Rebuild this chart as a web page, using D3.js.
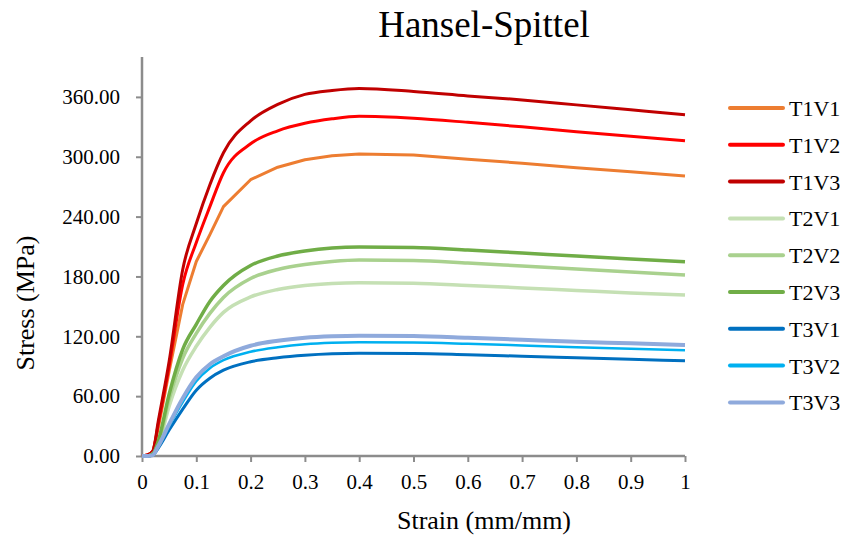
<!DOCTYPE html>
<html><head><meta charset="utf-8">
<script src="https://cdn.jsdelivr.net/npm/d3@7"></script>
<style>body{margin:0;background:#fff}svg{display:block}</style>
</head><body>
<svg id="chart" width="844" height="536"></svg>
<script>
const strain = [0, 0.01, 0.02, 0.03, 0.05, 0.075, 0.1, 0.125, 0.15, 0.2, 0.25, 0.3, 0.35, 0.4, 0.5, 0.6, 0.7, 0.8, 0.9, 1.0];
const seriesNames = ["T1V1","T1V2","T1V3","T2V1","T2V2","T2V3","T3V1","T3V2","T3V3"];
const T1V1 = [0, 1, 4, 28, 85, 152, 195, 222, 250, 277, 289.5, 297, 301, 302.7, 301.7, 297.5, 293.5, 289, 285, 280.7];
const T1V2 = [0, 1, 5, 32, 90, 172, 214, 250, 284, 313, 326, 333.5, 338, 340.5, 338.5, 334.5, 330, 325, 320.5, 316];
const T1V3 = [0, 1, 5, 35, 95, 187, 233, 272, 304, 336, 352.5, 362.5, 366.5, 368.5, 365.5, 361, 357, 352, 347, 342];
const T2V1 = [0, 0, 2, 11, 50, 86, 110, 129, 144, 159.5, 167, 171, 173, 173.7, 173.2, 171, 168.5, 166, 163.5, 161.4];
const T2V2 = [0, 0, 2, 13, 57, 98, 123, 143, 159, 178, 187, 192, 195, 196.5, 196, 193.5, 190.5, 187.5, 184.5, 181.5];
const T2V3 = [0, 0, 2, 15, 62, 107, 132, 155, 171, 191, 200.5, 205.5, 208.5, 209.5, 209, 206.5, 203.5, 200.5, 197.5, 194.8];
const T3V1 = [0, 0, 1, 8, 26, 47, 66, 78, 86, 94.5, 98.5, 101, 102.5, 103, 102.8, 101.5, 100, 98.5, 97, 95.5];
const T3V2 = [0, 0, 1, 9, 30, 54, 75, 88, 96, 104.5, 109, 112, 113.5, 114, 113.8, 112.5, 110.8, 109, 107.5, 106];
const T3V3 = [0, 0, 1, 10, 32, 58, 79, 92, 100, 110.5, 115.5, 118.5, 120, 120.6, 120.2, 118.5, 116.5, 114.5, 113, 111.3];
const xTicks = [0, 0.1, 0.2, 0.3, 0.4, 0.5, 0.6, 0.7, 0.8, 0.9, 1];
const yTicks = [0, 60, 120, 180, 240, 300, 360];

const seriesValues = [T1V1, T1V2, T1V3, T2V1, T2V2, T2V3, T3V1, T3V2, T3V3];
const colors = ["#ED7D31","#FF0000","#C00000","#C5E0B4","#A9D18E","#70AD47","#0070C0","#00B0F0","#8FAADC"];
const widths = [3, 3, 3, 3.5, 3.5, 3.5, 3, 2.5, 4];

const svg = d3.select("#chart");
const font = "'Liberation Serif','Times New Roman',serif";
const x = d3.scaleLinear().domain([0, 1]).range([142, 685]);
const y = d3.scaleLinear().domain([0, 400]).range([456, 57]);
const axisColor = "#8c8c8c";

// axes
const xAxis = svg.append("g").attr("transform", `translate(0,${y(0)})`)
  .call(d3.axisBottom(x).tickValues(xTicks).tickFormat(d => d3.format("")(d)).tickSizeOuter(0).tickSize(6).tickPadding(12));
const yAxis = svg.append("g").attr("transform", `translate(${x(0)},0)`)
  .call(d3.axisLeft(y).tickValues(yTicks).tickFormat(d3.format(".2f")).tickSizeOuter(0).tickSize(6).tickPadding(16));
[xAxis, yAxis].forEach(g => {
  g.attr("font-family", null);
  g.selectAll("path.domain").attr("stroke", axisColor).attr("stroke-width", 2.5);
  g.selectAll(".tick line").attr("stroke", axisColor).attr("stroke-width", 2);
  g.selectAll("text").style("font-family", font).attr("font-size", 21).attr("fill", "#000");
});
xAxis.select("path.domain").attr("d", `M0,0H${x(1)-x(0)}`).attr("transform", `translate(${x(0)},0)`);
yAxis.select("path.domain").attr("d", `M0,${y(0)}V${y(400)}`);

// lines
const line = d3.line().x((d, i) => x(strain[i])).y(d => y(d));
seriesValues.forEach((vals, k) => {
  line.curve(k === 0 ? d3.curveLinear : d3.curveMonotoneX);
  svg.append("path").datum(vals)
    .attr("d", line)
    .attr("fill", "none")
    .attr("stroke", colors[k])
    .attr("stroke-width", widths[k])
    .attr("stroke-linejoin", "round");
});

// titles
svg.append("text").attr("x", 484).attr("y", 37).attr("text-anchor", "middle")
  .style("font-family", font).attr("font-size", 37).text("Hansel-Spittel");
svg.append("text").attr("x", 484).attr("y", 529).attr("text-anchor", "middle")
  .style("font-family", font).attr("font-size", 26).text("Strain (mm/mm)");
svg.append("text").attr("transform", "translate(34,303) rotate(-90)").attr("text-anchor", "middle")
  .style("font-family", font).attr("font-size", 26).text("Stress (MPa)");

// legend
const lg = svg.append("g");
seriesNames.forEach((name, k) => {
  const ly = 108 + k * 36.8;
  lg.append("line").attr("x1", 730).attr("x2", 783).attr("y1", ly).attr("y2", ly)
    .attr("stroke", colors[k]).attr("stroke-width", 4).attr("stroke-linecap", "round");
  lg.append("text").attr("x", 789).attr("y", ly + 8).style("font-family", font)
    .attr("font-size", 22).text(name);
});
</script>
</body></html>
